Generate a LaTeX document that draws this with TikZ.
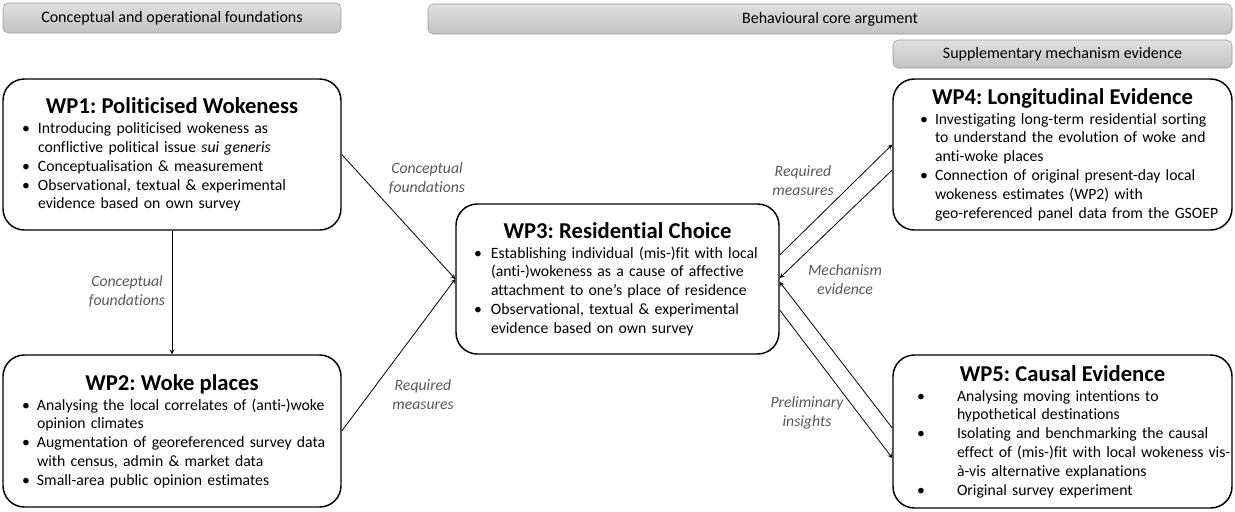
\documentclass[tikz,border=0pt]{standalone}
\usepackage{fontspec}
\setmainfont[Ligatures=NoCommon]{Carlito}
\usetikzlibrary{calc}
\frenchspacing

% bullet layout inside the work package boxes
\newlength{\bulx}
\newlength{\txtx}
\newcommand{\bul}{\par\hangindent=\txtx\hangafter=1\rightskip=-14pt plus 1fil\noindent\hbox to\txtx{\hskip\bulx\textbullet\hfil}}
\newcommand{\wptitle}[1]{{\centering\fontsize{17}{19}\selectfont\bfseries #1\par}\vspace{1pt}}

\tikzset{
  wp/.style={draw, line width=1.1pt, rounded corners=16pt, inner xsep=0pt, inner ysep=0pt,
    align=left, font=\fontsize{11.8}{14.1}\selectfont},
  hdr/.style={draw=black!40, rounded corners=4pt, top color=black!12, bottom color=black!24,
    inner sep=0pt, font=\fontsize{12}{14}\selectfont},
  lbl/.style={align=center, text=black!65, font=\fontsize{11.8}{14.1}\selectfont\itshape},
}

\begin{document}
\begin{tikzpicture}[x=0.75pt, y=-0.75pt, >=stealth]
  \useasboundingbox (0,0) rectangle (1235,511);

  % headers
  \node[hdr, minimum width=253.5pt, minimum height=22.5pt] (hconc) at (172,18) {Conceptual and operational foundations};
  \node[hdr, minimum width=603pt, minimum height=22.5pt] (hcore) at (830,19) {Behavioural core argument};
  \node[hdr, minimum width=254.25pt, minimum height=21pt] (hsupp) at (1062.5,54) {Supplementary mechanism evidence};

  % work packages
  \node[wp, text width=253.5pt, minimum height=113.25pt] (wp1) at (172,154.5) {%
    \setlength\bulx{14.25pt}\setlength\txtx{26.25pt}%
    \wptitle{WP1: Politicised Wokeness}
    \bul Introducing politicised wokeness as\newline conflictive political issue \textit{sui generis}
    \bul Conceptualisation \& measurement
    \bul Observational, textual \& experimental\newline evidence based on own survey\par};

  \node[wp, text width=253.5pt, minimum height=114pt] (wp2) at (172,431) {%
    \setlength\bulx{14.25pt}\setlength\txtx{25.5pt}%
    \wptitle{WP2: Woke places}
    \bul Analysing the local correlates of (anti-)woke\newline opinion climates
    \bul Augmentation of georeferenced survey data\newline with census, admin \& market data
    \bul Small-area public opinion estimates\par};

  \node[wp, text width=242.25pt, minimum height=112.5pt] (wp3) at (617.5,279) {%
    \setlength\bulx{13.5pt}\setlength\txtx{26.25pt}%
    \wptitle{WP3: Residential Choice}
    \bul Establishing individual (mis-)fit with local\newline (anti-)wokeness as a cause of affective\newline attachment to one’s place of residence
    \bul Observational, textual \& experimental\newline evidence based on own survey\par};

  \node[wp, text width=254.25pt, minimum height=113.25pt] (wp4) at (1062.5,154.5) {%
    \setlength\bulx{20.25pt}\setlength\txtx{31.5pt}%
    \wptitle{WP4: Longitudinal Evidence}
    \bul Investigating long-term residential sorting\newline to understand the evolution of woke and\newline anti-woke places
    \bul Connection of original present-day local\newline wokeness estimates (WP2) with\newline geo-referenced panel data from the GSOEP\par};

  \node[wp, text width=254.25pt, minimum height=114.75pt] (wp5) at (1062.5,431.5) {%
    \setlength\bulx{18pt}\setlength\txtx{48pt}%
    \wptitle{WP5: Causal Evidence}
    \bul Analysing moving intentions to\newline hypothetical destinations
    \bul Isolating and benchmarking the causal\newline effect of (mis-)fit with local wokeness vis-\newline à-vis alternative explanations
    \bul Original survey experiment\par};

  % connectors
  \draw[->, line width=0.6pt] (wp1) -- (wp2);
  \draw[->, line width=0.6pt] (wp1.east) -- (wp3.west);
  \draw[->, line width=0.6pt] (wp2.east) -- (wp3.west);
  \draw[->, line width=0.6pt] ($(wp3.east)+(0,-24)$) -- ($(wp4.west)+(0,-10)$);
  \draw[->, line width=0.6pt] ($(wp4.west)+(0,15.5)$) -- ($(wp3.east)+(0,-1)$);
  \draw[->, line width=0.6pt] ($(wp5.west)+(0,-3.5)$) -- ($(wp3.east)+(0,3)$);
  \draw[->, line width=0.6pt] ($(wp3.east)+(0,31)$) -- ($(wp5.west)+(0,26.5)$);

  % connector labels
  \node[lbl] (l13) at (427,178.5) {Conceptual\\foundations};
  \node[lbl] (l12) at (127,291.5) {Conceptual\\foundations};
  \node[lbl] (l23) at (423,394.5) {Required\\measures};
  \node[lbl] (l34) at (803,180.5) {Required\\measures};
  \node[lbl] (l43) at (845,279.5) {Mechanism\\evidence};
  \node[lbl] (l53) at (807,412.5) {Preliminary\\insights};
\end{tikzpicture}
\end{document}
